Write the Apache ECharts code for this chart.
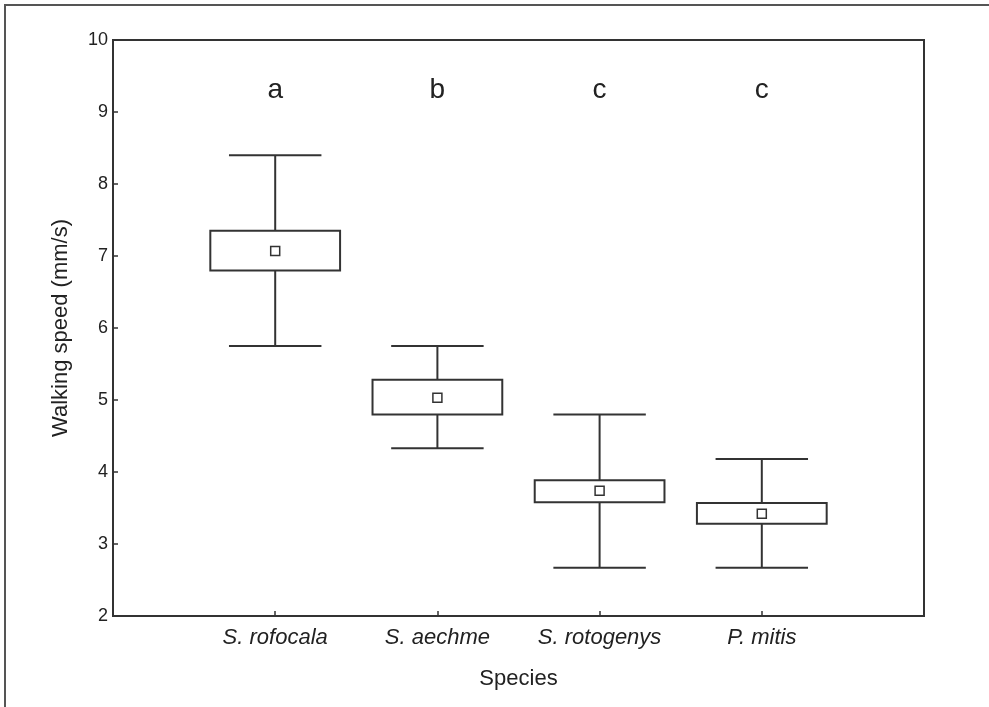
<!DOCTYPE html>
<html lang="en">
<head>
    <meta charset="UTF-8">
    <title>Walking speed</title>
    <script src="https://cdn.jsdelivr.net/npm/echarts@6/dist/echarts.min.js"></script>
    <style>
        html, body { margin: 0; padding: 0; background: #fff; }
    </style>
</head>
<body>
    <div id="main" style="width:989px;height:707px;"></div>
    <script>
        // species and the box values
        var species = ['S. rofocala', 'S. aechme', 'S. rotogenys', 'P. mitis'];
        var whiskerLow = [5.75, 4.33, 2.67, 2.67];
        var boxLow = [6.8, 4.8, 3.58, 3.28];
        var means = [7.07, 5.03, 3.74, 3.42];
        var boxHigh = [7.35, 5.28, 3.885, 3.57];
        var whiskerHigh = [8.4, 5.75, 4.8, 4.18];
        var groupLetters = ['a', 'b', 'c', 'c'];
        var yTicks = [2, 3, 4, 5, 6, 7, 8, 9, 10];

        var letterY = 9.3;
        var lineColor = '#333';
        var textColor = '#222';
        var font = 'Liberation Sans, Arial, sans-serif';

        // empty slot on both ends so the boxes sit at 1..4 of a 0..5 range
        var categories = [''].concat(species, ['']);

        var boxData = [];
        var letterData = [];
        for (var i = 0; i < species.length; i++) {
            boxData.push([i + 1, whiskerLow[i], boxLow[i], means[i], boxHigh[i], whiskerHigh[i]]);
            letterData.push([i + 1, letterY, i]);
        }

        function renderBox(params, api) {
            var x = api.value(0);
            var step = api.size([1, 0])[0];
            var wl = api.coord([x, api.value(1)]);
            var bl = api.coord([x, api.value(2)]);
            var m = api.coord([x, api.value(3)]);
            var bh = api.coord([x, api.value(4)]);
            var wh = api.coord([x, api.value(5)]);
            var bw = step * 0.8;
            var cw = step * 0.57;
            var cx = wl[0];
            var st = { stroke: lineColor, lineWidth: 2, fill: null };
            var ms = 9;
            return {
                type: 'group',
                children: [
                    { type: 'line', shape: { x1: cx, y1: wh[1], x2: cx, y2: bh[1] }, style: st },
                    { type: 'line', shape: { x1: cx, y1: bl[1], x2: cx, y2: wl[1] }, style: st },
                    { type: 'line', shape: { x1: cx - cw / 2, y1: wh[1], x2: cx + cw / 2, y2: wh[1] }, style: st },
                    { type: 'line', shape: { x1: cx - cw / 2, y1: wl[1], x2: cx + cw / 2, y2: wl[1] }, style: st },
                    { type: 'rect', shape: { x: cx - bw / 2, y: bh[1], width: bw, height: bl[1] - bh[1] },
                      style: { stroke: lineColor, lineWidth: 2, fill: '#fff' } },
                    { type: 'rect', shape: { x: m[0] - ms / 2, y: m[1] - ms / 2, width: ms, height: ms },
                      style: { stroke: '#333', lineWidth: 1.5, fill: '#fff' } }
                ]
            };
        }

        function renderLetter(params, api) {
            var p = api.coord([api.value(0), api.value(1)]);
            return {
                type: 'text',
                x: p[0],
                y: p[1],
                style: {
                    text: groupLetters[api.value(2)],
                    fill: textColor,
                    font: '28px ' + font,
                    align: 'center',
                    verticalAlign: 'middle'
                }
            };
        }

        var myChart = echarts.init(document.getElementById('main'));
        var option = {
            backgroundColor: '#fff',
            animation: false,
            textStyle: { fontFamily: font },
            grid: {
                left: 113, right: 65, top: 40, bottom: 91,
                show: true, borderColor: lineColor, borderWidth: 2,
                backgroundColor: 'transparent'
            },
            graphic: [{
                // frame around the figure (only top and left edges visible)
                type: 'polyline',
                shape: { points: [[5, 707], [5, 5], [989, 5]] },
                style: { stroke: '#555', lineWidth: 2, fill: null }
            }],
            xAxis: {
                type: 'category',
                data: categories,
                boundaryGap: false,
                axisLine: { lineStyle: { color: lineColor, width: 2 } },
                axisTick: {
                    inside: true, length: 5,
                    lineStyle: { color: lineColor, width: 1.5 },
                    interval: function (idx) { return idx > 0 && idx < categories.length - 1; }
                },
                axisLabel: {
                    interval: 0, color: textColor, fontSize: 22, fontStyle: 'italic',
                    fontFamily: font, margin: 11
                },
                splitLine: { show: false },
                name: 'Species',
                nameLocation: 'middle',
                nameGap: 52,
                nameTextStyle: { color: textColor, fontSize: 22, fontFamily: font }
            },
            yAxis: {
                type: 'value',
                min: yTicks[0],
                max: yTicks[yTicks.length - 1],
                interval: 1,
                axisLine: { show: true, lineStyle: { color: lineColor, width: 2 } },
                axisTick: { show: true, inside: true, length: 5, lineStyle: { color: lineColor, width: 1.5 } },
                axisLabel: { color: textColor, fontSize: 18, fontFamily: font, margin: 5 },
                splitLine: { show: false },
                name: 'Walking speed (mm/s)',
                nameLocation: 'middle',
                nameGap: 41,
                nameTextStyle: { color: textColor, fontSize: 22, fontFamily: font }
            },
            series: [{
                type: 'custom',
                renderItem: renderBox,
                encode: { x: 0, y: [1, 2, 3, 4, 5] },
                data: boxData,
                z: 3
            }, {
                type: 'custom',
                renderItem: renderLetter,
                encode: { x: 0, y: 1 },
                data: letterData,
                silent: true,
                z: 4
            }]
        };
        myChart.setOption(option);
    </script>
</body>
</html>
